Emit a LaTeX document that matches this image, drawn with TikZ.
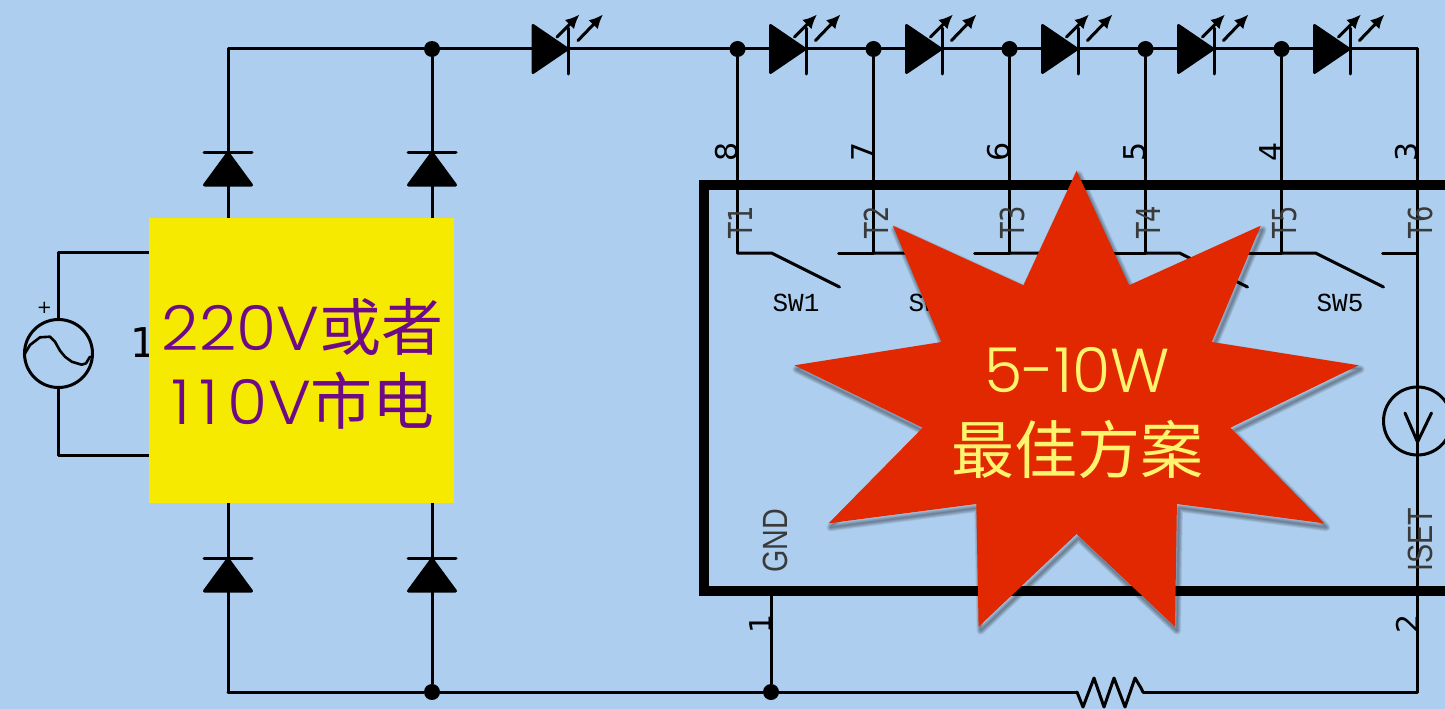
\documentclass[tikz,border=0pt]{standalone}
\usepackage{fontspec}
\usepackage{graphicx}
\usetikzlibrary{arrows.meta}
\newfontfamily\dvs{DejaVu Sans}
\newfontfamily\dvm{Liberation Mono}
\newfontfamily\lib{Liberation Sans}
\newfontfamily\pop{Poppins Light}
\newfontfamily\cjk{Noto Sans CJK SC}
\definecolor{bgblue}{HTML}{ADCEEE}
\definecolor{chipgrey}{HTML}{3A3A3A}
\definecolor{banner}{HTML}{F6EB00}
\definecolor{purp}{HTML}{6E0A87}
\definecolor{starred}{HTML}{E22800}
\definecolor{staryel}{HTML}{FFF46E}
\newcommand\sqz[2]{\scalebox{#1}[1]{#2}}
\tikzset{
  wire/.style={line width=3pt,line cap=round,line join=round,draw=black},
  dotn/.style={circle,fill=black,inner sep=0pt,minimum size=16pt},
  ring/.style={circle,draw=black,line width=3pt,inner sep=0pt,minimum size=68pt},
  pinnum/.style={font=\dvs\fontsize{30}{30}\selectfont,text=black,rotate=90,inner sep=0pt},
  tlabel/.style={font=\dvs\fontsize{33}{33}\selectfont,text=chipgrey,rotate=90,inner sep=0pt},
  hlabel/.style={font=\lib\fontsize{35}{35}\selectfont,text=chipgrey,rotate=90,inner sep=0pt},
  swlabel/.style={font=\dvm\fontsize{26}{26}\selectfont,text=black,inner sep=0pt},
  led/.pic={
    \filldraw[wire] (0,-23.5) -- (34.5,0) -- (0,23.5) -- cycle;
    \draw[wire] (35.5,-21) -- (35.5,25);
    \draw[wire,-{Latex[length=14pt,width=13pt]}] (24,-12) -- (46.5,-34.5);
    \draw[wire,-{Latex[length=14pt,width=13pt]}] (45,-8.5) -- (70,-34.5);
  },
  diode/.pic={
    \filldraw[wire] (0,1) -- (-23.5,33) -- (23.5,33) -- cycle;
    \draw[wire] (-24,0) -- (24,0);
  }
}
\begin{document}
\begin{tikzpicture}[x=1pt,y=-1pt]
\useasboundingbox (0,0) rectangle (1445,709);
\clip (0,0) rectangle (1445,709);
\fill[bgblue] (0,0) rectangle (1445,709);

% junctions and corners
\coordinate (tl) at (228,49);
\coordinate (tr) at (1417.5,49);
\coordinate (bl) at (228,692);
\coordinate (br) at (1417.5,692);
\coordinate (swl) at (58.5,252.5);
\coordinate (bwl) at (58.5,455);
\coordinate (swr) at (228,252.5);
\coordinate (bwr) at (228,455);
\node[dotn] (jt0) at (432,49) {};
\node[dotn] (jb0) at (432,692) {};
\node[dotn] (jb1) at (771,692) {};
\node[dotn] (j1) at (737.5,49) {};
\node[dotn] (j2) at (873.5,49) {};
\node[dotn] (j3) at (1009.5,49) {};
\node[dotn] (j4) at (1145.5,49) {};
\node[dotn] (j5) at (1281.5,49) {};
\coordinate (rl) at (1077,692);
\coordinate (rr) at (1143,692);
\coordinate (gndbox) at (771,591);
\coordinate (s1) at (737.5,253);
\coordinate (s2) at (873.5,253);
\coordinate (s3) at (1009.5,253);
\coordinate (s4) at (1145.5,253);
\coordinate (s5) at (1281.5,253);
\coordinate (s6) at (1417.5,253);

% wires
\draw[wire] (bl) -- (tl) -- (jt0) -- (j1) -- (j2) -- (j3) -- (j4) -- (j5) -- (tr) -- (br) -- (rr);
\draw[wire] (rr) -- (1141,688) -- (1135,678) -- (1125,707) -- (1114,678) -- (1104,707) -- (1094,678) -- (1083,707) -- (rl);
\draw[wire] (rl) -- (jb1) -- (jb0) -- (bl);
\draw[wire] (jt0) -- (jb0);
\draw[wire] (jb1) -- (gndbox);
\foreach \j/\s in {j1/s1,j2/s2,j3/s3,j4/s4,j5/s5} \draw[wire] (\j) -- (\s);

% switches
\foreach \s in {s1,s2,s3,s4,s5} {
  \draw[wire] (\s) -- ++(34,0) -- ++(68,34);
}
\foreach \s in {s2,s3,s4,s5,s6} {
  \draw[wire] (\s) -- ++(-35,0);
}

% LEDs
\foreach \x in {533,770.5,906.5,1042.5,1178.5,1314.5} \pic at (\x,49) {led};

% bridge diodes
\pic at (228,152) {diode};
\pic at (432,152) {diode};
\pic at (228,558) {diode};
\pic at (432,558) {diode};

% AC source
\node[ring] (src) at (58.5,353.5) {};
\draw[wire] (src.north) -- (swl) -- (swr);
\draw[wire] (src.south) -- (bwl) -- (bwr);
\draw[wire,line width=2.6pt] (24,355) -- (30,345) -- (40,337.3) -- (50,336.7) -- (55,341.7) -- (60,350.7) -- (65,356.7) -- (71.7,361.7) -- (81.7,364.7) -- (86,363.3) -- (90,356.7);
\node[font=\dvs\fontsize{18}{18}\selectfont,inner sep=0pt] (plus) at (44.5,308) {+};
\node[font=\dvs\fontsize{41}{41}\selectfont,inner sep=0pt] (one) at (144,343) {1};

% current source
\node[ring] (isrc) at (1417.5,421) {};
\draw[wire] (1405,413) -- (1417.5,442) -- (1431.5,413);

% chip outline
\draw[line width=10pt,miter limit=4] (1460,185) -- (703.5,185) -- (703.5,591) -- (1460,591);

% pin numbers
\foreach \n/\x in {8/727,7/863,6/999,5/1135,4/1271,3/1407}
  \node[pinnum] (pin\n) at (\x,152) {\n};
\node[pinnum] (pin1) at (761,624) {1};
\node[pinnum] (pin2) at (1407,624) {2};

% switch and pin names
\foreach \n/\x in {1/740.5,2/876.5,3/1012.5,4/1148.5,5/1284.5,6/1420.5}
  \node[tlabel] (t\n) at (\x,222) {\sqz{.78}{T\n}};
\node[hlabel] (gnd) at (775.5,541) {\sqz{.82}{GND}};
\node[hlabel] (iset) at (1420.5,540) {\sqz{.82}{ISET}};
\foreach \n/\x in {1/796,2/932,3/1068,4/1204,5/1340}
  \node[swlabel] (sw\n) at (\x,303) {SW\n};

% yellow banner
\fill[banner] (149,217.5) rectangle (454,503);
\node[text=purp,inner sep=0pt,anchor=center] (b1) at (302.5,326.5) {\fontsize{62}{62}\selectfont\pop\sqz{1.05}{220V}\cjk 或者};
\node[text=purp,inner sep=0pt,anchor=center] (b2) at (303,401) {\fontsize{62}{62}\selectfont\pop\sqz{1.05}{1\kern9pt 1\kern9pt 0V}\cjk 市电};

% star with soft shadow
\def\starpath{(1076.6,170.7) -- (1129,285.3) -- (1260.7,225.7) -- (1211.7,342) -- (1358.6,365.3) -- (1230.4,427.7) -- (1324.2,523.3) -- (1176.9,504) -- (1175,626.7) -- (1076.6,534) -- (978.6,626.7) -- (976.3,504) -- (828.6,523.3) -- (922.7,427.7) -- (794.5,365.3) -- (941.5,342) -- (892.9,225.7) -- (1023.4,285.3) -- cycle}
\begin{scope}[shift={(2,4)}]
\foreach \w in {8,6.5,5,3.5,2,.5}
  \draw[black,opacity=.075,line width=\w pt,line join=round] \starpath;
\end{scope}
\fill[starred] \starpath;
\node[text=staryel,inner sep=0pt] (s5w) at (1077,370) {\fontsize{62}{62}\selectfont\pop 5-10W};
\node[text=staryel,inner sep=0pt] (sbest) at (1077,449) {\fontsize{63}{63}\selectfont\cjk 最佳方案};
\end{tikzpicture}
\end{document}
